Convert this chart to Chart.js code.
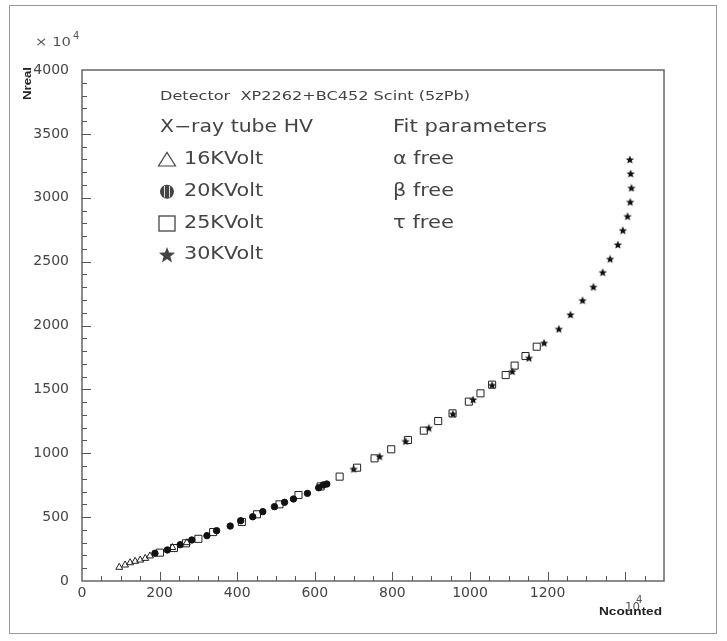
<!DOCTYPE html>
<html><head><meta charset="utf-8">
<script src="https://cdn.jsdelivr.net/npm/chart.js@4.4.1/dist/chart.umd.min.js"></script>
<style>html,body{margin:0;padding:0;background:#fff;}canvas{display:block}</style>
</head><body>
<canvas id="c" width="727" height="641"></canvas>
<script>
// ---- data (Ncounted, Nreal), both in units of 10^4 ----
const kv16 = [[96,107],[111,125],[124,143],[137,154],[150,164],[163,177],[175,196],[233,262],[270,300]];
const kv20 = [[188,217],[220,243],[253,284],[283,321],[322,355],[347,394],[382,430],[409,472],[440,503],[466,543],[496,582],[522,616],[545,642],[581,686],[610,730],[622,752],[631,759]];
const kv25 = [[201,222],[237,258],[268,295],[300,330],[338,383],[412,462],[451,522],[509,600],[558,673],[615,740],[664,817],[709,887],[754,960],[797,1031],[840,1104],[881,1177],[918,1252],[955,1312],[997,1404],[1027,1469],[1057,1537],[1092,1612],[1115,1686],[1143,1761],[1172,1834]];
const kv30 = [[700,874],[767,973],[834,1091],[894,1195],[956,1305],[1008,1417],[1057,1530],[1109,1638],[1152,1743],[1191,1861],[1229,1970],[1259,2082],[1290,2194],[1318,2299],[1342,2413],[1361,2518],[1381,2630],[1394,2742],[1406,2852],[1413,2964],[1416,3074],[1414,3186],[1412,3296]];
const seriesNames = ['16KVolt','20KVolt','25KVolt','30KVolt'];
const fitParams = ['\u03b1 free','\u03b2 free','\u03c4 free'];
const titleText = 'Detector  XP2262+BC452 Scint (5zPb)';
const legendHeader = 'X\u2212ray tube HV';
const fitHeader = 'Fit parameters';
const xTitle = 'Ncounted';
const yTitle = 'Nreal';
const xRange = [0, 1500], xMajor = 200, xMinor = 50;
const yRange = [0, 4000], yMajor = 500, yMinor = 100;

const toPts = a => a.map(p => ({x: p[0], y: p[1]}));

function starImg(size, ro, ri, color) {
  const c = document.createElement('canvas');
  c.width = size; c.height = size;
  const g = c.getContext('2d');
  starPath(g, size/2, size/2, ro, ri);
  g.fillStyle = color; g.fill();
  return c;
}
function starPath(g, cx, cy, ro, ri) {
  g.beginPath();
  for (let i = 0; i < 10; i++) {
    const r = i % 2 ? ri : ro;
    const a = -Math.PI/2 + i * Math.PI/5;
    const px = cx + r*Math.cos(a), py = cy + r*Math.sin(a);
    i ? g.lineTo(px, py) : g.moveTo(px, py);
  }
  g.closePath();
}
const starPoint = starImg(10, 4.4, 2.0, '#111');

function txt(ctx, s, x, y, font, w, color) {
  ctx.save();
  ctx.font = font; ctx.textBaseline = 'middle'; ctx.textAlign = 'left';
  ctx.fillStyle = color || '#444';
  const m = ctx.measureText(s).width;
  ctx.translate(x, y);
  if (w) ctx.scale(w / m, 1);
  ctx.fillText(s, 0, 0);
  ctx.restore();
}

const deco = {
  id: 'deco',
  afterDraw(chart) {
    const ctx = chart.ctx, xs = chart.scales.x, ys = chart.scales.y, a = chart.chartArea;
    ctx.save();
    // outer frame
    ctx.strokeStyle = '#999'; ctx.lineWidth = 1;
    ctx.strokeRect(9.5, 5.5, 707, 628);
    // plot frame
    ctx.strokeStyle = '#666'; ctx.lineWidth = 1.5;
    ctx.strokeRect(a.left, a.top, a.right - a.left, a.bottom - a.top);
    // inward ticks
    ctx.strokeStyle = '#555'; ctx.lineWidth = 1;
    ctx.beginPath();
    for (let v = yRange[0] + yMinor; v < yRange[1]; v += yMinor) {
      const py = Math.round(ys.getPixelForValue(v)) + 0.5;
      const len = v % yMajor === 0 ? 9 : 5;
      ctx.moveTo(a.left, py); ctx.lineTo(a.left + len, py);
    }
    for (let v = xRange[0] + xMinor; v < xRange[1]; v += xMinor) {
      const px = Math.round(xs.getPixelForValue(v)) + 0.5;
      const len = v % xMajor === 0 ? 9 : 5;
      ctx.moveTo(px, a.bottom); ctx.lineTo(px, a.bottom - len);
    }
    ctx.stroke();
    // exponent labels
    txt(ctx, '\u00d7 10', 35, 43, '13px "DejaVu Sans"', 36, '#555');
    txt(ctx, '4', 73, 36, '10px "DejaVu Sans"', 0, '#555');
    txt(ctx, '10', 625, 608, '13px "DejaVu Sans"', 15, '#555');
    txt(ctx, '4', 636, 600, '10px "DejaVu Sans"', 0, '#555');
    // axis titles
    txt(ctx, xTitle, 599, 612, 'bold 11px "Liberation Sans"', 63, '#222');
    ctx.save();
    ctx.translate(28, 100); ctx.rotate(-Math.PI/2);
    txt(ctx, yTitle, 0, 0, 'bold 11px "Liberation Sans"', 33, '#222');
    ctx.restore();
    // legend / annotation text
    txt(ctx, titleText, 160, 97, '13px "DejaVu Sans"', 310);
    txt(ctx, legendHeader, 160, 128, '17px "DejaVu Sans"', 153);
    txt(ctx, fitHeader, 393, 128, '17px "DejaVu Sans"', 154);
    const rows = [159.5, 191.7, 223.6, 255];
    seriesNames.forEach((s, i) => txt(ctx, s, 184, rows[i], '17px "DejaVu Sans"', 79));
    fitParams.forEach((s, i) => txt(ctx, s, 393, rows[i], '17px "DejaVu Sans"', 61));
    // legend markers
    ctx.strokeStyle = '#444'; ctx.lineWidth = 1.2;
    ctx.beginPath(); ctx.moveTo(158.5, 166); ctx.lineTo(175.5, 166); ctx.lineTo(167, 152.5); ctx.closePath(); ctx.stroke();
    ctx.beginPath(); ctx.arc(167, 191.7, 7, 0, Math.PI*2); ctx.fillStyle = '#444'; ctx.fill();
    ctx.strokeStyle = '#ddd'; ctx.lineWidth = 1;
    ctx.beginPath(); ctx.moveTo(164.5, 186); ctx.lineTo(164.5, 197.5); ctx.moveTo(169.5, 186); ctx.lineTo(169.5, 197.5); ctx.stroke();
    ctx.strokeStyle = '#444'; ctx.lineWidth = 1.3;
    ctx.strokeRect(159, 216, 16, 15);
    starPath(ctx, 167, 255.5, 8.5, 3.6); ctx.fillStyle = '#444'; ctx.fill();
    ctx.restore();
  }
};

new Chart(document.getElementById('c'), {
  type: 'scatter',
  data: {
    datasets: [
      {label: seriesNames[0], data: toPts(kv16), pointStyle: 'triangle', pointRadius: 4, borderColor: '#222', backgroundColor: 'rgba(0,0,0,0)', pointBorderWidth: 1},
      {label: seriesNames[1], data: toPts(kv20), pointStyle: 'circle', pointRadius: 3.2, borderColor: '#111', backgroundColor: '#111', pointBorderWidth: 1},
      {label: seriesNames[2], data: toPts(kv25), pointStyle: 'rect', pointRadius: 5, borderColor: '#222', backgroundColor: 'rgba(0,0,0,0)', pointBorderWidth: 1},
      {label: seriesNames[3], data: toPts(kv30), pointStyle: starPoint, pointRadius: 5}
    ]
  },
  options: {
    responsive: false, animation: false, devicePixelRatio: 1,
    layout: {padding: {left: 0, top: 70, right: 63, bottom: 0}},
    plugins: {legend: {display: false}, tooltip: {enabled: false}},
    scales: {
      x: {
        type: 'linear', min: xRange[0], max: xRange[1],
        grid: {display: false, drawTicks: false}, border: {display: false},
        ticks: {stepSize: xMajor, padding: 4, color: '#444', font: {family: 'DejaVu Sans', size: 14}, maxRotation: 0, callback: v => String(v)},
        afterBuildTicks: s => { s.ticks = s.ticks.filter(t => t.value % xMajor === 0); },
        afterFit: s => { s.height = 60; }
      },
      y: {
        type: 'linear', min: yRange[0], max: yRange[1],
        grid: {display: false, drawTicks: false}, border: {display: false},
        ticks: {stepSize: yMajor, padding: 13, color: '#444', font: {family: 'DejaVu Sans', size: 14}, callback: v => String(v)},
        afterFit: s => { s.width = 82; }
      }
    }
  },
  plugins: [deco]
});
</script>
</body></html>
